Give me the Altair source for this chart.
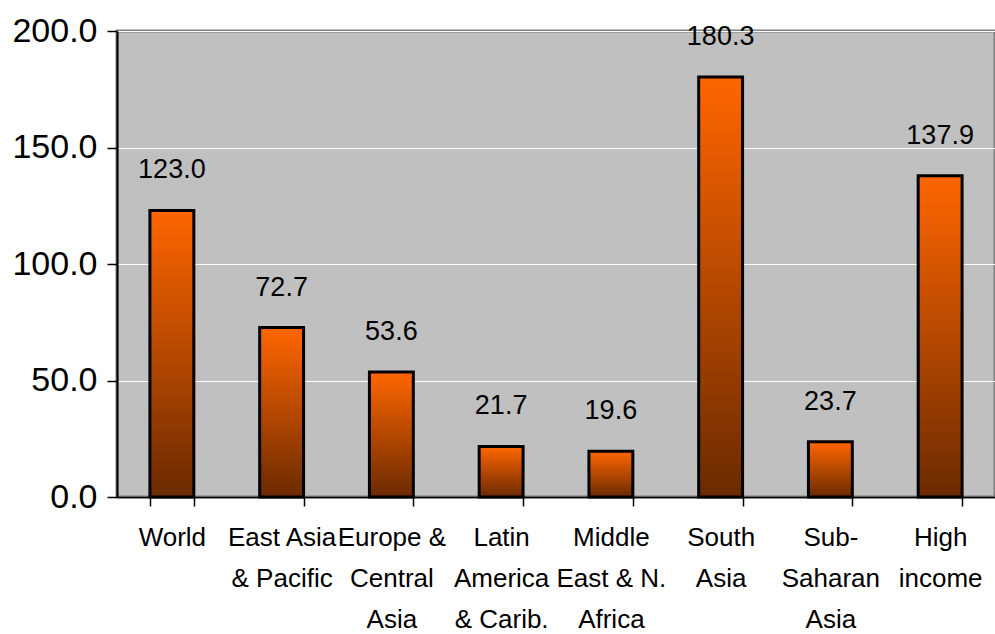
import altair as alt
import pandas as pd

regions = ["World", "East Asia\n& Pacific", "Europe &\nCentral\nAsia", "Latin\nAmerica\n& Carib.",
           "Middle\nEast & N.\nAfrica", "South\nAsia", "Sub-\nSaharan\nAsia", "High\nincome"]
values = [123.0, 72.7, 53.6, 21.7, 19.6, 180.3, 23.7, 137.9]

df = pd.DataFrame({"region": regions, "value": values})

FONT = "Liberation Sans, Arial"

gradient = alt.Gradient(
    gradient="linear", x1=0, y1=0, x2=0, y2=1,
    stops=[alt.GradientStop(offset=0, color="#FF6600"),
           alt.GradientStop(offset=1, color="#6B2A00")],
)

x = alt.X("region:N", sort=regions, title=None,
          scale=alt.Scale(paddingInner=0.6, paddingOuter=0.3),
          axis=alt.Axis(labelAngle=0,
                        labelExpr="isValid(datum.value) ? split(datum.value, '\\n') : ''",
                        labelFont=FONT, labelFontSize=26, labelLineHeight=41,
                        labelColor="black", labelPadding=18, labelBaseline="top",
                        tickBand="extent", tickSize=9, tickColor="black", tickWidth=1.5,
                        domainColor="black", domainWidth=1.5, labelLimit=200))
y = alt.Y("value:Q", title=None,
          scale=alt.Scale(domain=[0, 200], nice=False),
          axis=alt.Axis(values=[0, 50, 100, 150, 200], format=".1f",
                        labelFont=FONT, labelFontSize=34, labelColor="black",
                        labelPadding=10, tickSize=10, tickColor="black", tickWidth=1.5,
                        domainColor="black", domainWidth=2,
                        grid=True, gridColor="white", gridWidth=1))

bars = alt.Chart(df).mark_bar(fill=gradient, stroke="black", strokeWidth=3).encode(x=x, y=y)

labels = alt.Chart(df).mark_text(font=FONT, fontSize=27, baseline="alphabetic", dy=-32,
                                 color="black").encode(
    x=alt.X("region:N", sort=regions),
    y=alt.Y("value:Q"),
    text=alt.Text("value:Q", format=".1f"),
)

chart = (bars + labels).properties(
    width=878, height=466,
    autosize=alt.AutoSizeParams(type="none"),
    padding={"left": 117, "top": 31, "right": 0, "bottom": 137},
    background="white",
).configure_view(fill="#C0C0C0", stroke="#808080", strokeWidth=3)

chart.save("out.html", embed_options={"renderer": "svg", "actions": False})
